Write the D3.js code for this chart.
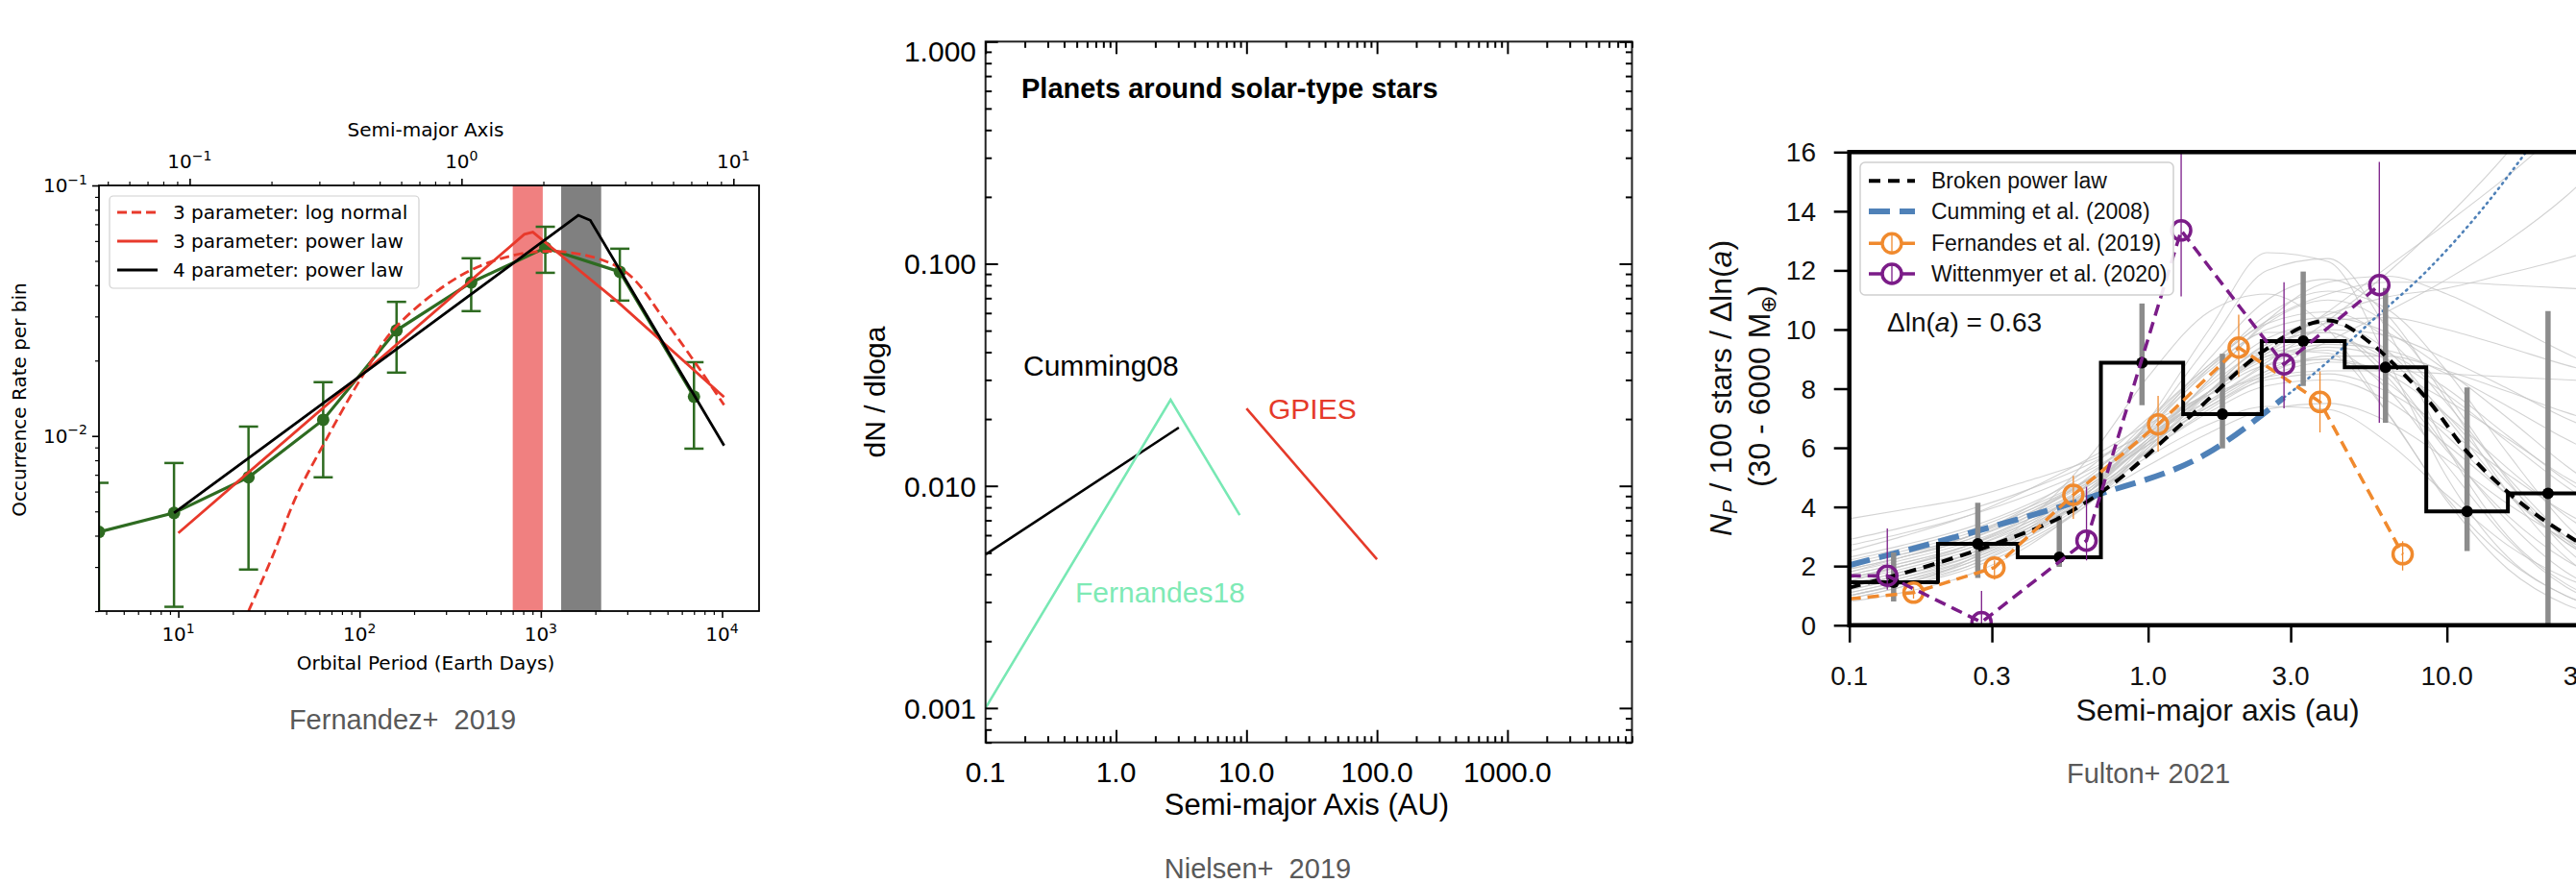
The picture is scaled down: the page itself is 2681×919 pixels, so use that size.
<!DOCTYPE html>
<html>
<head>
<meta charset="utf-8">
<script src="https://cdn.jsdelivr.net/npm/d3@7"></script>
<style>
  body { margin: 0; background: #fff; }
  svg { display: block; }
  text { white-space: pre; }
</style>
</head>
<body>
<script>
// ---------- Fernandez+ 2019: occurrence rate vs orbital period ----------
const fernPeriod = [3.65, 9.47, 24.4, 63, 160, 413, 1059, 2729, 7000];
const fernRate   = [0.00414, 0.00493, 0.00684, 0.0116, 0.0264, 0.041, 0.0564, 0.0452, 0.01435];
const fernRateLo = [0.0015, 0.00208, 0.00293, 0.00684, 0.0179, 0.0315, 0.0448, 0.0347, 0.0089];
const fernRateHi = [0.0065, 0.0078, 0.0109, 0.0164, 0.0343, 0.0512, 0.0684, 0.0559, 0.0197];
// model curves
const logNormPeriod = [24.4, 33, 44.8, 63, 105, 160, 424, 1119, 2780, 5100, 10260];
const logNormRate   = [0.002, 0.00329, 0.00575, 0.0092, 0.0176, 0.0274, 0.0464, 0.0546, 0.0464, 0.0274, 0.0133];
const pow3Period = [10, 811, 904, 2618, 10260];
const pow3Rate   = [0.0041, 0.0638, 0.0651, 0.0346, 0.0143];
const pow4Period = [9.47, 1610, 1876, 10260];
const pow4Rate   = [0.00493, 0.076, 0.0726, 0.00916];
const peakBandRed  = [700, 1025];
const peakBandGray = [1295, 2153];
const fernLegend = ["3 parameter: log normal", "3 parameter: power law", "4 parameter: power law"];

// ---------- Nielsen+ 2019: dN/dloga ----------
const cummingA = [0.1, 3.03];
const cummingN = [0.00491, 0.0183];
const fernandesA = [0.1, 2.62, 8.87];
const fernandesN = [0.001, 0.0244, 0.00738];
const gpiesA = [10, 100];
const gpiesN = [0.0223, 0.00467];
const nielsenXTicks = [0.1, 1, 10, 100, 1000];
const nielsenYTicks = [0.001, 0.01, 0.1, 1];

// ---------- Fulton+ 2021: occurrence per ln(a) ----------
const binEdges = [0.1, 0.198, 0.366, 0.695, 1.31, 2.40, 4.55, 8.53, 16.0, 29.7];
const binRate  = [1.45, 2.75, 2.30, 8.88, 7.14, 9.61, 8.72, 3.85, 4.46];
const binLo    = [0.8, 1.6, 1.97, 7.44, 5.98, 8.09, 6.85, 2.51, 0];
const binHi    = [2.46, 4.14, 3.70, 10.88, 9.18, 11.96, 11.4, 8.04, 10.62];
const brokenA = [0.1, 0.187, 0.313, 0.52, 0.764, 1.38, 2.40, 3.68, 4.0, 5.62, 7.08, 8.6, 11.6, 16.0, 27.1];
const brokenV = [1.27, 2.03, 2.78, 3.70, 4.79, 7.06, 9.23, 10.26, 10.31, 9.5, 8.55, 7.64, 5.9, 4.5, 2.85];
const cumDashA = [0.1, 0.293, 0.672, 1.57, 2.85];
const cumDashV = [2.03, 3.3, 4.4, 5.8, 7.7];
const cumDotA = [2.85, 3.68, 5.62, 8.6, 13.2, 18.4];
const cumDotV = [7.7, 8.6, 10.3, 12.0, 14.1, 16.0];
const fern19Edge = 0.89;
const fern19A  = [0.164, 0.306, 0.562, 1.08, 2.01, 3.76, 7.11];
const fern19V  = [1.10, 1.95, 4.41, 6.79, 9.39, 7.55, 2.40];
const fern19Lo = [0.9, 1.54, 3.6, 5.87, 8.4, 6.52, 1.85];
const fern19Hi = [1.3, 2.19, 5.05, 7.76, 10.5, 8.58, 2.84];
const witt20Edge = 1.67;
const witt20A  = [0.134, 0.277, 0.622, 1.29, 2.85, 5.94];
const witt20V  = [1.67, 0.1, 2.86, 13.35, 8.82, 11.5];
const witt20Lo = [1.2, 0, 2.19, 11.12, 7.33, 6.85];
const witt20Hi = [3.27, 1.16, 4.68, 16.5, 11.6, 15.67];
// posterior draws of the model, sampled on a common grid
const drawGrid = [0.1, 0.15, 0.25, 0.4, 0.65, 1.0, 1.6, 2.5, 4.0, 6.3, 10, 16, 25, 40];
const draws = [
  [1.3, 1.7, 2.3, 3.2, 4.6, 6.3, 8.2, 9.7, 10.2, 9.3, 7.0, 4.5, 2.8, 1.7],
  [1.6, 2.0, 2.6, 3.4, 4.5, 5.7, 6.8, 7.4, 7.3, 6.2, 4.4, 2.7, 1.6, 0.9],
  [0.9, 1.3, 2.0, 3.0, 4.6, 6.8, 9.5, 12.0, 12.4, 10.0, 6.0, 3.0, 1.4, 0.6],
  [1.8, 2.3, 3.0, 4.0, 5.4, 7.0, 8.8, 10.3, 11.2, 11.6, 11.6, 11.5, 11.4, 11.3],
  [2.2, 2.6, 3.2, 4.0, 5.0, 6.2, 7.5, 8.6, 9.6, 10.6, 11.7, 13.0, 14.5, 16.5],
  [2.5, 3.0, 3.7, 4.6, 5.7, 6.8, 7.8, 8.4, 8.6, 8.6, 8.5, 8.4, 8.3, 8.2],
  [1.0, 1.4, 2.2, 3.6, 5.8, 8.4, 10.6, 11.2, 10.0, 7.2, 4.3, 2.2, 1.0, 0.4],
  [1.5, 1.9, 2.5, 3.3, 4.3, 5.4, 6.5, 7.3, 7.5, 6.9, 5.6, 4.1, 2.9, 2.0],
  [3.6, 3.9, 4.3, 4.9, 5.6, 6.5, 7.6, 8.6, 9.0, 8.5, 7.1, 5.3, 3.7, 2.4],
  [0.8, 1.1, 1.7, 2.7, 4.4, 6.9, 10.0, 12.6, 12.3, 9.0, 5.0, 2.3, 1.0, 0.4],
  [1.2, 1.6, 2.3, 3.3, 4.9, 6.8, 8.7, 10.0, 10.4, 9.9, 8.6, 7.0, 5.4, 4.0],
  [1.4, 1.8, 2.4, 3.2, 4.4, 5.9, 7.5, 8.8, 9.4, 9.0, 7.8, 6.2, 4.7, 3.4],
  [2.0, 2.4, 3.0, 3.8, 4.9, 6.3, 7.9, 9.4, 10.5, 11.1, 11.4, 11.9, 12.4, 13.1],
  [1.1, 1.5, 2.1, 3.0, 4.3, 6.0, 7.9, 9.3, 9.2, 7.2, 4.2, 1.9, 0.7, 0.2],
  [1.7, 2.1, 2.7, 3.6, 4.8, 6.3, 7.9, 9.1, 9.6, 9.2, 8.0, 6.4, 4.9, 3.6],
  [2.7, 3.1, 3.7, 4.4, 5.3, 6.4, 7.6, 8.9, 10.3, 11.9, 13.8, 16.0, 18.5, 21.5],
  [1.3, 1.7, 2.4, 3.4, 4.9, 6.7, 8.6, 9.9, 9.9, 8.4, 5.9, 3.7, 2.2, 1.3],
  [1.9, 2.3, 2.9, 3.7, 4.8, 6.1, 7.4, 8.3, 8.5, 7.9, 6.6, 5.1, 3.8, 2.8],
  [1.0, 1.4, 2.0, 2.9, 4.2, 5.9, 7.9, 9.5, 9.9, 8.6, 6.0, 3.5, 1.8, 0.9],
  [1.5, 2.0, 2.7, 3.7, 5.1, 6.9, 8.8, 10.2, 10.6, 9.7, 7.5, 5.0, 3.0, 1.7],
  [2.3, 2.7, 3.3, 4.1, 5.2, 6.5, 7.9, 9.0, 9.5, 9.3, 8.5, 7.4, 6.3, 5.3],
  [1.1, 1.5, 2.2, 3.2, 4.7, 6.6, 8.7, 10.5, 11.3, 10.7, 8.6, 5.8, 3.4, 1.8],
  [1.8, 2.2, 2.8, 3.6, 4.6, 5.9, 7.3, 8.4, 8.9, 8.6, 7.6, 6.3, 5.0, 3.9],
  [0.9, 1.3, 1.9, 2.8, 4.2, 6.1, 8.3, 10.2, 11.0, 10.2, 7.8, 4.9, 2.6, 1.2],
  [1.6, 2.0, 2.6, 3.5, 4.7, 6.2, 7.9, 9.3, 10.0, 9.8, 9.0, 8.0, 7.0, 6.2],
  [2.0, 2.4, 3.0, 3.9, 5.0, 6.4, 7.8, 8.8, 9.0, 8.2, 6.4, 4.4, 2.8, 1.7],
  [1.2, 1.6, 2.2, 3.1, 4.4, 6.2, 8.3, 10.3, 11.6, 11.8, 11.2, 10.2, 9.2, 8.3],
  [1.4, 1.8, 2.4, 3.3, 4.6, 6.2, 7.9, 9.1, 9.3, 8.0, 5.4, 2.9, 1.3, 0.5],
  [2.9, 3.3, 3.9, 4.6, 5.5, 6.6, 7.9, 9.2, 10.6, 12.1, 13.6, 15.2, 16.9, 18.8],
  [1.7, 2.1, 2.7, 3.5, 4.6, 5.9, 7.2, 8.1, 8.3, 7.6, 6.1, 4.4, 3.0, 2.0],
  [1.0, 1.4, 2.1, 3.1, 4.6, 6.6, 9.0, 11.0, 11.7, 10.5, 7.6, 4.5, 2.3, 1.0],
  [2.1, 2.5, 3.1, 3.9, 4.9, 6.1, 7.4, 8.5, 9.1, 9.1, 8.6, 7.9, 7.2, 6.6],
  [1.3, 1.7, 2.3, 3.2, 4.4, 6.0, 7.8, 9.2, 9.7, 9.0, 7.1, 4.8, 2.9, 1.6],
  [1.9, 2.3, 2.9, 3.8, 5.0, 6.5, 8.1, 9.5, 10.3, 10.4, 10.0, 9.4, 8.8, 8.3]
];
const fultonXTicks = [0.1, 0.3, 1, 3, 10, 30];
const fultonYTicks = d3.range(0, 17, 2);
const fultonLegend = ["Broken power law", "Cumming et al. (2008)", "Fernandes et al. (2019)", "Wittenmyer et al. (2020)"];

const W = 2681, H = 919;
const svg = d3.select("body").append("svg").attr("width", W).attr("height", H);
svg.append("rect").attr("width", W).attr("height", H).attr("fill", "#fff");
const defs = svg.append("defs");

const isDecade = v => Math.abs(Math.log10(v) - Math.round(Math.log10(v))) < 1e-9;
const zip = (a, b) => a.map((v, i) => [v, b[i]]);

function clipRect(id, p) {
  defs.append("clipPath").attr("id", id).append("rect")
    .attr("x", p.left).attr("y", p.top)
    .attr("width", p.right - p.left).attr("height", p.bottom - p.top);
}

// draws only tick marks with a d3 axis, no labels, no domain line
function tickMarks(g, axis, transform, values, size, width) {
  g.append("g").attr("transform", transform)
    .call(axis.tickValues(values).tickSize(size).tickSizeOuter(0).tickFormat(""))
    .call(a => a.select(".domain").remove())
    .selectAll("line").attr("stroke", "#000").attr("stroke-width", width);
}

// "10^n" label in mathtext style
function powText(sel, exp, size) {
  sel.append("tspan").text("10");
  sel.append("tspan").attr("dy", -size * 0.42).attr("font-size", size * 0.7)
    .text(exp < 0 ? "\u2212" + (-exp) : String(exp));
}

// ======================= panel 1 =======================
{
  const p = {left: 103, right: 790, top: 193, bottom: 636};
  const x = d3.scaleLog().domain([3.65, 16000]).range([p.left, p.right]);
  const y = d3.scaleLog().domain([0.002, 0.1]).range([p.bottom, p.top]);
  const toAU = P => Math.pow(P / 365.25, 2 / 3);
  const xa = d3.scaleLog().domain(x.domain().map(toAU)).range(x.range());
  const font = "DejaVu Sans, sans-serif";
  const green = "#2e6b21", red = "#e8392b";
  const g = svg.append("g");
  clipRect("clip1", p);
  const plot = g.append("g").attr("clip-path", "url(#clip1)");

  [[peakBandRed, "#f08080"], [peakBandGray, "#808080"]].forEach(([b, c]) => {
    plot.append("rect").attr("x", x(b[0])).attr("width", x(b[1]) - x(b[0]))
      .attr("y", p.top).attr("height", p.bottom - p.top).attr("fill", c);
  });

  const line = d3.line().x(d => x(d[0])).y(d => y(d[1]));
  plot.append("path").datum(zip(fernPeriod, fernRate)).attr("d", line)
    .attr("fill", "none").attr("stroke", green).attr("stroke-width", 3.2);
  fernPeriod.forEach((P, i) => {
    const cx = x(P);
    plot.append("line").attr("x1", cx).attr("x2", cx)
      .attr("y1", y(fernRateLo[i])).attr("y2", y(fernRateHi[i]))
      .attr("stroke", green).attr("stroke-width", 2.5);
    [fernRateLo[i], fernRateHi[i]].forEach(v => {
      plot.append("line").attr("x1", cx - 10).attr("x2", cx + 10)
        .attr("y1", y(v)).attr("y2", y(v)).attr("stroke", green).attr("stroke-width", 2.5);
    });
    plot.append("circle").attr("cx", cx).attr("cy", y(fernRate[i])).attr("r", 6.5).attr("fill", green);
  });

  plot.append("path").datum(zip(logNormPeriod, logNormRate))
    .attr("d", line.curve(d3.curveCatmullRom)).attr("fill", "none")
    .attr("stroke", red).attr("stroke-width", 2.8).attr("stroke-dasharray", "10,5");
  line.curve(d3.curveLinear);
  plot.append("path").datum(zip(pow3Period, pow3Rate)).attr("d", line)
    .attr("fill", "none").attr("stroke", red).attr("stroke-width", 2.8);
  plot.append("path").datum(zip(pow4Period, pow4Rate)).attr("d", line)
    .attr("fill", "none").attr("stroke", "#000").attr("stroke-width", 2.8);

  // frame and ticks
  g.append("rect").attr("x", p.left).attr("y", p.top)
    .attr("width", p.right - p.left).attr("height", p.bottom - p.top)
    .attr("fill", "none").attr("stroke", "#000").attr("stroke-width", 1.8);
  const xt = x.ticks(), yt = y.ticks(), at = xa.ticks();
  tickMarks(g, d3.axisBottom(x), `translate(0,${p.bottom})`, xt.filter(isDecade), 7, 1.6);
  tickMarks(g, d3.axisBottom(x), `translate(0,${p.bottom})`, xt.filter(v => !isDecade(v)), 4, 1.2);
  tickMarks(g, d3.axisLeft(y), `translate(${p.left},0)`, yt.filter(isDecade), 7, 1.6);
  tickMarks(g, d3.axisLeft(y), `translate(${p.left},0)`, yt.filter(v => !isDecade(v)), 4, 1.2);
  tickMarks(g, d3.axisTop(xa), `translate(0,${p.top})`, at.filter(isDecade), 7, 1.6);
  tickMarks(g, d3.axisTop(xa), `translate(0,${p.top})`, at.filter(v => !isDecade(v)), 4, 1.2);

  const lab = g.append("g").attr("font-family", font).attr("fill", "#000");
  xt.filter(isDecade).forEach(v => {
    powText(lab.append("text").attr("x", x(v)).attr("y", 667).attr("text-anchor", "middle")
      .attr("font-size", 20), Math.round(Math.log10(v)), 20);
  });
  at.filter(isDecade).forEach(v => {
    powText(lab.append("text").attr("x", xa(v)).attr("y", 175).attr("text-anchor", "middle")
      .attr("font-size", 20), Math.round(Math.log10(v)), 20);
  });
  yt.filter(isDecade).forEach(v => {
    powText(lab.append("text").attr("x", p.left - 12).attr("y", y(v) + 7).attr("text-anchor", "end")
      .attr("font-size", 20), Math.round(Math.log10(v)), 20);
  });
  lab.append("text").attr("x", 443).attr("y", 697).attr("text-anchor", "middle")
    .attr("font-size", 20).text("Orbital Period (Earth Days)");
  lab.append("text").attr("x", 443).attr("y", 142).attr("text-anchor", "middle")
    .attr("font-size", 20).text("Semi-major Axis");
  lab.append("text").attr("transform", `translate(27,416) rotate(-90)`)
    .attr("text-anchor", "middle").attr("font-size", 20).text("Occurrence Rate per bin");

  // legend
  const lg = g.append("g").attr("font-family", font);
  lg.append("rect").attr("x", 114).attr("y", 204).attr("width", 322).attr("height", 96)
    .attr("rx", 4).attr("fill", "#fff").attr("fill-opacity", 0.85)
    .attr("stroke", "#d0d0d0").attr("stroke-width", 1.2);
  const legStyle = [[red, "10,5"], [red, null], ["#000", null]];
  fernLegend.forEach((t, i) => {
    const ly = 221 + i * 30;
    lg.append("line").attr("x1", 122).attr("x2", 164).attr("y1", ly).attr("y2", ly)
      .attr("stroke", legStyle[i][0]).attr("stroke-width", 2.8)
      .attr("stroke-dasharray", legStyle[i][1]);
    lg.append("text").attr("x", 180).attr("y", ly + 7).attr("font-size", 20).text(t);
  });

  svg.append("text").attr("x", 419).attr("y", 759).attr("text-anchor", "middle")
    .attr("font-family", "Liberation Sans, Arial, sans-serif").attr("font-size", 29)
    .attr("fill", "#595959").text("Fernandez+  2019");
}

// ======================= panel 2 =======================
{
  const p = {left: 1025.7, right: 1698.5, top: 43.3, bottom: 772.7};
  const x = d3.scaleLog().domain([0.1, 9000]).range([p.left, p.right]);
  const y = d3.scaleLog().domain([0.0007, 1]).range([p.bottom, p.top]);
  const font = "Liberation Sans, Arial, sans-serif";
  const g = svg.append("g");
  clipRect("clip2", p);
  const plot = g.append("g").attr("clip-path", "url(#clip2)");
  const line = d3.line().x(d => x(d[0])).y(d => y(d[1]));

  plot.append("path").datum(zip(cummingA, cummingN)).attr("d", line)
    .attr("fill", "none").attr("stroke", "#000").attr("stroke-width", 2.6);
  plot.append("path").datum(zip(fernandesA, fernandesN)).attr("d", line)
    .attr("fill", "none").attr("stroke", "#78e8b4").attr("stroke-width", 2.6);
  plot.append("path").datum(zip(gpiesA, gpiesN)).attr("d", line)
    .attr("fill", "none").attr("stroke", "#e53a2a").attr("stroke-width", 2.6);

  g.append("rect").attr("x", p.left).attr("y", p.top)
    .attr("width", p.right - p.left).attr("height", p.bottom - p.top)
    .attr("fill", "none").attr("stroke", "#222").attr("stroke-width", 2);
  const xt = x.ticks(), yt = y.ticks();
  const xMaj = xt.filter(isDecade), xMin = xt.filter(v => !isDecade(v));
  const yMaj = yt.filter(isDecade), yMin = yt.filter(v => !isDecade(v));
  tickMarks(g, d3.axisBottom(x), `translate(0,${p.bottom})`, xMaj, -13, 2);
  tickMarks(g, d3.axisBottom(x), `translate(0,${p.bottom})`, xMin, -6.5, 2);
  tickMarks(g, d3.axisTop(x), `translate(0,${p.top})`, xMaj, -13, 2);
  tickMarks(g, d3.axisTop(x), `translate(0,${p.top})`, xMin, -6.5, 2);
  tickMarks(g, d3.axisLeft(y), `translate(${p.left},0)`, yMaj, -13, 2);
  tickMarks(g, d3.axisLeft(y), `translate(${p.left},0)`, yMin, -6.5, 2);
  tickMarks(g, d3.axisRight(y), `translate(${p.right},0)`, yMaj, -13, 2);
  tickMarks(g, d3.axisRight(y), `translate(${p.right},0)`, yMin, -6.5, 2);

  const lab = g.append("g").attr("font-family", font).attr("fill", "#000");
  nielsenXTicks.forEach(v => {
    lab.append("text").attr("x", x(v)).attr("y", 814).attr("text-anchor", "middle")
      .attr("font-size", 30).text(d3.format(".1f")(v));
  });
  // the top label sits just under the frame instead of centred on its tick
  nielsenYTicks.forEach(v => {
    lab.append("text").attr("x", 1016).attr("y", Math.max(y(v) + 11, p.top + 21))
      .attr("text-anchor", "end").attr("font-size", 30).text(d3.format(".3f")(v));
  });
  lab.append("text").attr("x", 1360).attr("y", 848).attr("text-anchor", "middle")
    .attr("font-size", 31).text("Semi-major Axis (AU)");
  lab.append("text").attr("transform", "translate(921,408) rotate(-90)")
    .attr("text-anchor", "middle").attr("font-size", 30).text("dN / dloga");
  lab.append("text").attr("x", 1063).attr("y", 102).attr("font-size", 29)
    .attr("font-weight", "bold").text("Planets around solar-type stars");
  lab.append("text").attr("x", 1065).attr("y", 391).attr("font-size", 30).text("Cumming08");
  lab.append("text").attr("x", 1320).attr("y", 436).attr("font-size", 30)
    .attr("fill", "#e53a2a").text("GPIES");
  lab.append("text").attr("x", 1119).attr("y", 627).attr("font-size", 30)
    .attr("fill", "#7eeab5").text("Fernandes18");

  svg.append("text").attr("x", 1309).attr("y", 914).attr("text-anchor", "middle")
    .attr("font-family", font).attr("font-size", 29)
    .attr("fill", "#595959").text("Nielsen+  2019");
}

// ======================= panel 3 =======================
{
  const p = {left: 1924.7, right: 2764, top: 158.3, bottom: 650.7};
  const x = d3.scaleLog().domain([0.1, 50]).range([p.left, p.right]);
  const y = d3.scaleLinear().domain([0, 16]).range([p.bottom, p.top]);
  const font = "Liberation Sans, Arial, sans-serif";
  const orange = "#f08a2e", purple = "#7b1c88", blue = "#4f81b8";
  const g = svg.append("g");
  clipRect("clip3", p);
  const plot = g.append("g").attr("clip-path", "url(#clip3)");
  const line = d3.line().x(d => x(d[0])).y(d => y(d[1]));

  draws.forEach(d => {
    plot.append("path").datum(zip(drawGrid, d)).attr("d", line.curve(d3.curveMonotoneX))
      .attr("fill", "none").attr("stroke", "#c4c4c4").attr("stroke-width", 1.1)
      .attr("stroke-opacity", 0.75);
  });
  line.curve(d3.curveLinear);

  plot.append("path").datum(zip(cumDotA, cumDotV)).attr("d", line.curve(d3.curveMonotoneX))
    .attr("fill", "none").attr("stroke", blue).attr("stroke-width", 2.6)
    .attr("stroke-dasharray", "1.5,5").attr("stroke-linecap", "round");
  plot.append("path").datum(zip(cumDashA, cumDashV)).attr("d", line)
    .attr("fill", "none").attr("stroke", blue).attr("stroke-width", 6)
    .attr("stroke-dasharray", "22,10");
  line.curve(d3.curveLinear);

  // binned occurrence: error bars, step histogram, points
  const centers = binRate.map((_, i) => Math.sqrt(binEdges[i] * binEdges[i + 1]));
  centers.forEach((c, i) => {
    plot.append("line").attr("x1", x(c)).attr("x2", x(c))
      .attr("y1", y(binLo[i])).attr("y2", y(binHi[i]))
      .attr("stroke", "#8c8c8c").attr("stroke-width", 5.5);
  });
  const steps = binRate.map((v, i) => [binEdges[i], v]).concat([[binEdges[binEdges.length - 1], binRate[binRate.length - 1]]]);
  plot.append("path").datum(steps).attr("d", line.curve(d3.curveStepAfter))
    .attr("fill", "none").attr("stroke", "#000").attr("stroke-width", 4);
  line.curve(d3.curveLinear);
  centers.forEach((c, i) => {
    plot.append("circle").attr("cx", x(c)).attr("cy", y(binRate[i])).attr("r", 6).attr("fill", "#000");
  });

  plot.append("path").datum(zip(brokenA, brokenV)).attr("d", line.curve(d3.curveMonotoneX))
    .attr("fill", "none").attr("stroke", "#000").attr("stroke-width", 4)
    .attr("stroke-dasharray", "12,8");
  line.curve(d3.curveLinear);

  function series(A, V, lo, hi, edge, color) {
    plot.append("path").datum([[0.1, edge]].concat(zip(A, V))).attr("d", line)
      .attr("fill", "none").attr("stroke", color).attr("stroke-width", 3.5)
      .attr("stroke-dasharray", "12,7");
    A.forEach((a, i) => {
      plot.append("line").attr("x1", x(a)).attr("x2", x(a))
        .attr("y1", y(lo[i])).attr("y2", y(hi[i]))
        .attr("stroke", color).attr("stroke-width", 1.3);
      plot.append("circle").attr("cx", x(a)).attr("cy", y(V[i])).attr("r", 10)
        .attr("fill", "none").attr("stroke", color).attr("stroke-width", 3.5);
    });
  }
  series(fern19A, fern19V, fern19Lo, fern19Hi, fern19Edge, orange);
  series(witt20A, witt20V, witt20Lo, witt20Hi, witt20Edge, purple);

  // axes
  g.append("rect").attr("x", p.left).attr("y", p.top)
    .attr("width", p.right - p.left).attr("height", p.bottom - p.top)
    .attr("fill", "none").attr("stroke", "#000").attr("stroke-width", 4.5);
  tickMarks(g, d3.axisBottom(x), `translate(0,${p.bottom})`, fultonXTicks, 18, 2.5);
  tickMarks(g, d3.axisLeft(y), `translate(${p.left},0)`, fultonYTicks, 16, 2.5);

  const lab = g.append("g").attr("font-family", font).attr("fill", "#111");
  fultonXTicks.forEach(v => {
    lab.append("text").attr("x", x(v)).attr("y", 713).attr("text-anchor", "middle")
      .attr("font-size", 28).text(d3.format(".1f")(v));
  });
  fultonYTicks.forEach(v => {
    lab.append("text").attr("x", 1890).attr("y", y(v) + 10).attr("text-anchor", "end")
      .attr("font-size", 28).text(v);
  });
  lab.append("text").attr("x", 2308).attr("y", 750).attr("text-anchor", "middle")
    .attr("font-size", 32).text("Semi-major axis (au)");

  const yl1 = lab.append("text").attr("transform", "translate(1802,404) rotate(-90)")
    .attr("text-anchor", "middle").attr("font-size", 32);
  yl1.append("tspan").attr("font-style", "italic").text("N");
  yl1.append("tspan").attr("font-style", "italic").attr("font-size", 22).attr("dy", 6).text("P");
  yl1.append("tspan").attr("dy", -6).text(" / 100 stars / \u0394ln(");
  yl1.append("tspan").attr("font-style", "italic").text("a");
  yl1.append("tspan").text(")");
  const yl2 = lab.append("text").attr("transform", "translate(1842,402) rotate(-90)")
    .attr("text-anchor", "middle").attr("font-size", 32);
  yl2.append("tspan").text("(30 - 6000 M");
  yl2.append("tspan").attr("font-size", 22).attr("dy", 6).text("\u2295");
  yl2.append("tspan").attr("dy", -6).text(")");

  const dl = lab.append("text").attr("x", 1964).attr("y", 345).attr("font-size", 28);
  dl.append("tspan").text("\u0394ln(");
  dl.append("tspan").attr("font-style", "italic").text("a");
  dl.append("tspan").text(") = 0.63");

  // legend
  const lg = g.append("g").attr("font-family", font);
  lg.append("rect").attr("x", 1936).attr("y", 169).attr("width", 326).attr("height", 138)
    .attr("rx", 5).attr("fill", "#fff").attr("fill-opacity", 0.9)
    .attr("stroke", "#cfcfcf").attr("stroke-width", 1.5);
  const legStyle = [["#000", 4, "12,8"], [blue, 6, "22,10"], [orange, 3.5, "12,7"], [purple, 3.5, "12,7"]];
  fultonLegend.forEach((t, i) => {
    const ly = [188.3, 220, 253.3, 285][i];
    const [c, w, da] = legStyle[i];
    lg.append("line").attr("x1", 1945).attr("x2", 1993).attr("y1", ly).attr("y2", ly)
      .attr("stroke", c).attr("stroke-width", w).attr("stroke-dasharray", i < 2 ? da : null);
    if (i >= 2) {
      lg.append("circle").attr("cx", 1969).attr("cy", ly).attr("r", 10)
        .attr("fill", "#fff").attr("stroke", c).attr("stroke-width", 3.5);
      lg.append("line").attr("x1", 1969).attr("x2", 1969).attr("y1", ly - 10).attr("y2", ly + 10)
        .attr("stroke", c).attr("stroke-width", 1.3);
    }
    lg.append("text").attr("x", 2010).attr("y", ly + 8).attr("font-size", 23).attr("fill", "#111").text(t);
  });

  svg.append("text").attr("x", 2151).attr("y", 815)
    .attr("font-family", font).attr("font-size", 29)
    .attr("fill", "#595959").text("Fulton+ 2021");
}
</script>
</body>
</html>
